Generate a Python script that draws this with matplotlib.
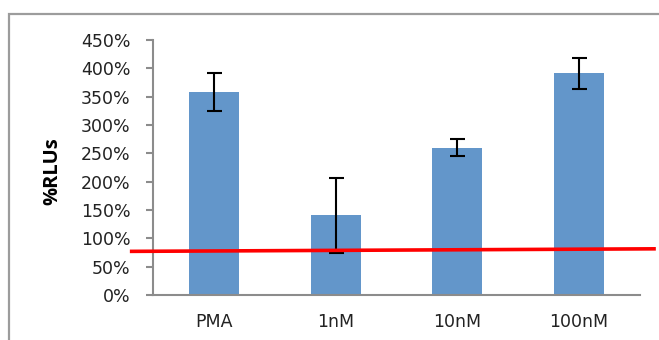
import matplotlib
matplotlib.use("Agg")
import matplotlib.pyplot as plt
from matplotlib.patches import Rectangle
from matplotlib.ticker import FuncFormatter, MultipleLocator

categories = ["PMA", "1nM", "10nM", "100nM"]
values = [358, 141, 260, 391]
errors = [33, 66, 14.5, 27.5]
ref_line_x = [-0.69, 3.63]
ref_line_y = [77, 81.5]

plt.rcParams['font.family'] = ['DejaVu Sans']

fig = plt.figure(figsize=(6.59, 3.40), dpi=100)
ax = fig.add_axes([153/659, 1-295/340, (640-153)/659, (295-40)/340])

x = range(len(categories))
ax.bar(x, values, width=0.41, color="#6396CA", edgecolor="none", zorder=2)
ax.errorbar(x, values, yerr=errors, fmt="none", ecolor="black",
            elinewidth=1.5, capsize=5.4, capthick=1.5, zorder=3)

ax.plot(ref_line_x, ref_line_y, color="#FF0000", lw=2.6, clip_on=False, zorder=4,
        solid_capstyle="butt")

ax.set_xlim(-0.5, 3.5)
ax.set_ylim(0, 450)
ax.yaxis.set_major_locator(MultipleLocator(50))
ax.yaxis.set_major_formatter(FuncFormatter(lambda v, p: f"{int(v)}%"))
ax.set_xticks(list(x))
ax.set_xticklabels(categories)

for s in ["top", "right"]:
    ax.spines[s].set_visible(False)
for s in ["left", "bottom"]:
    ax.spines[s].set_color("#8C8C8C")
    ax.spines[s].set_linewidth(1.5)

ax.tick_params(axis="y", length=5, width=1.5, color="#8C8C8C", pad=11,
               labelsize=12.5, labelcolor="#222222")
ax.tick_params(axis="x", length=0, pad=13, labelsize=12.5, labelcolor="#222222")

ax.set_ylabel("%RLUs", fontsize=14.5, fontweight="bold", family=["Open Sans", "DejaVu Sans"])
ax.yaxis.set_label_coords(-0.186, 0.484)

border = Rectangle((8.5/659, -0.1), 1.2, 1 - 13.5/340 + 0.1,
                   transform=fig.transFigure, fill=False,
                   edgecolor="#9C9C9C", linewidth=1.6, zorder=0)
fig.add_artist(border)

fig.savefig("out.png", dpi=100)
